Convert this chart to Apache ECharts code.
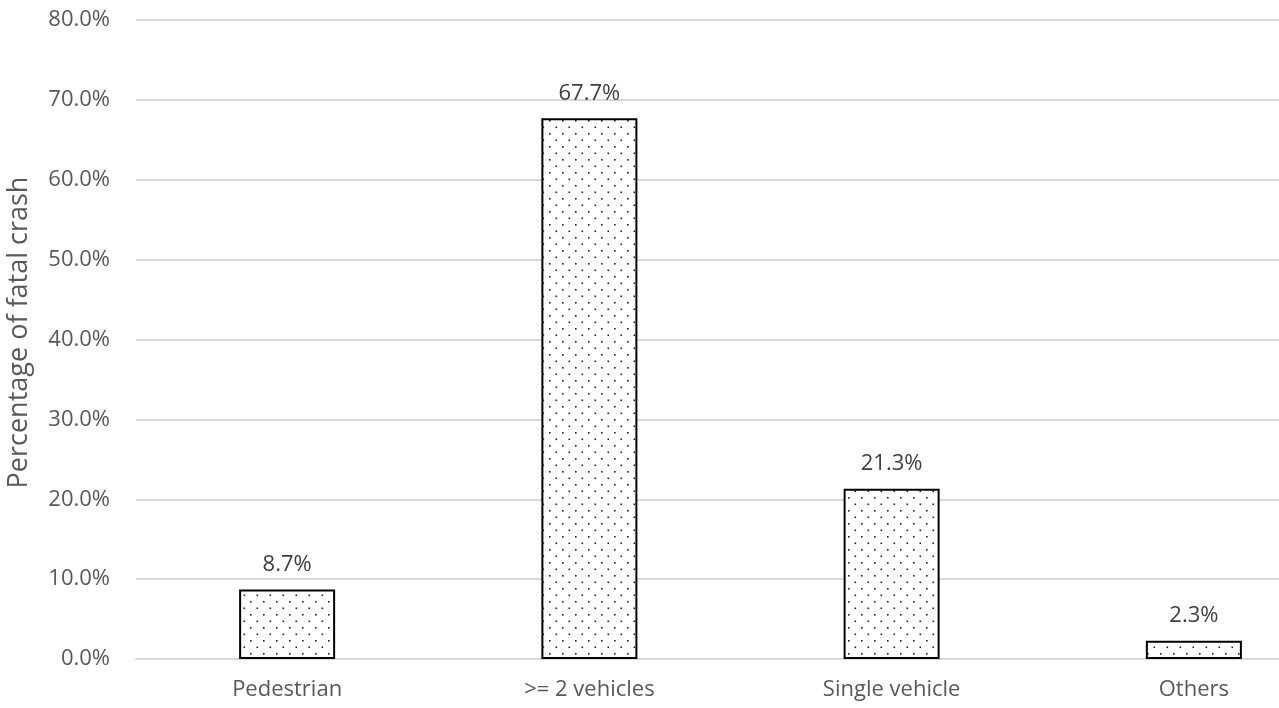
<!DOCTYPE html>
<html>
<head>
<meta charset="utf-8">
<script src="https://cdn.jsdelivr.net/npm/echarts@6/dist/echarts.min.js"></script>
<style>
  html, body { margin: 0; padding: 0; background: #fff; }
  #chart { width: 1279px; height: 708px; }
</style>
</head>
<body>
<div id="chart"></div>
<script>
// Crash type categories and their share of fatal crashes (%)
const categories = ['Pedestrian', '>= 2 vehicles', 'Single vehicle', 'Others'];
const shares = [8.7, 67.7, 21.3, 2.3];
const axisTitle = 'Percentage of fatal crash';

// Dotted fill: small staggered dot grid
function dotPattern() {
  const c = document.createElement('canvas');
  c.width = 13; c.height = 13;
  const g = c.getContext('2d');
  g.fillStyle = '#fff';
  g.fillRect(0, 0, 13, 13);
  g.fillStyle = '#222';
  g.fillRect(3, 3, 1.6, 1.6);
  g.fillRect(9.5, 9.5, 1.6, 1.6);
  return c;
}

const font = '"Open Sans", Lato, sans-serif';
const chart = echarts.init(document.getElementById('chart'));
chart.setOption({
  animation: false,
  // plot band runs past the right edge of the canvas
  grid: { left: 136, width: 1209, top: 20, bottom: 49, outerBoundsMode: 'none' },
  xAxis: {
    type: 'category',
    data: categories,
    axisLine: { show: true, lineStyle: { color: '#d9d9d9', width: 2 } },
    axisTick: { show: false },
    axisLabel: { color: '#595959', fontFamily: font, fontSize: 22, margin: 20 }
  },
  yAxis: {
    type: 'value',
    min: 0, max: 80, interval: 10,
    name: axisTitle,
    nameLocation: 'middle',
    nameGap: 103,
    nameTextStyle: { color: '#595959', fontFamily: font, fontSize: 27, padding: [0, 0, 0, 14] },
    axisLine: { show: false },
    axisTick: { show: false },
    splitLine: { lineStyle: { color: '#d9d9d9', width: 2 } },
    axisLabel: {
      color: '#595959', fontFamily: font, fontSize: 22, margin: 26,
      formatter: v => v.toFixed(1) + '%'
    }
  },
  series: [{
    type: 'bar',
    data: shares,
    barWidth: 96,
    itemStyle: {
      color: { image: dotPattern(), repeat: 'repeat' },
      borderColor: '#000',
      borderWidth: 2
    },
    label: {
      show: true,
      position: 'top',
      distance: 14,
      color: '#404040',
      fontFamily: font,
      fontSize: 22,
      formatter: p => p.value.toFixed(1) + '%'
    }
  }]
});
</script>
</body>
</html>
